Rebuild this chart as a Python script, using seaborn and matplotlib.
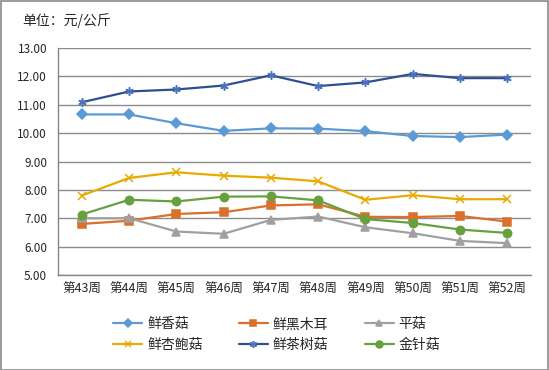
import matplotlib
matplotlib.use("Agg")
import matplotlib.pyplot as plt
import seaborn as sns
import pandas as pd
from matplotlib.lines import Line2D
from matplotlib.patches import Rectangle

weeks = ["第43周", "第44周", "第45周", "第46周", "第47周", "第48周", "第49周", "第50周", "第51周", "第52周"]
xiangu = [10.66, 10.66, 10.35, 10.08, 10.17, 10.16, 10.07, 9.90, 9.86, 9.95]
heimuer = [6.80, 6.91, 7.15, 7.21, 7.45, 7.49, 7.05, 7.04, 7.08, 6.88]
pinggu = [7.00, 7.00, 6.53, 6.45, 6.94, 7.06, 6.68, 6.47, 6.20, 6.12]
xingbaogu = [7.80, 8.42, 8.62, 8.50, 8.43, 8.30, 7.65, 7.81, 7.67, 7.67]
chashugu = [11.09, 11.47, 11.54, 11.68, 12.04, 11.66, 11.79, 12.09, 11.94, 11.94]
jinzhengu = [7.13, 7.65, 7.59, 7.76, 7.77, 7.63, 6.97, 6.83, 6.60, 6.48]

series_names = ["鲜香菇", "鲜黑木耳", "平菇", "鲜杏鲍菇", "鲜茶树菇", "金针菇"]
series_vals = [xiangu, heimuer, pinggu, xingbaogu, chashugu, jinzhengu]
line_colors = ["#5B9BD5", "#D9702C", "#A0A0A0", "#E8AA00", "#2F4F8F", "#67A03F"]
marker_colors = ["#5B9BD5", "#D9702C", "#A0A0A0", "#E8AA00", "#4A72C0", "#67A03F"]
markers = ["D", "s", "^", "x", (6, 2, 0), "o"]
msizes = [5, 6, 6, 6, 6, 6]

sns.set_theme(style="white")
plt.rcParams['font.family'] = ['Noto Sans CJK SC', 'DejaVu Sans']

rows = []
for name, vals in zip(series_names, series_vals):
    for i, v in enumerate(vals):
        rows.append({"x": i, "week": weeks[i], "price": v, "series": name})
df = pd.DataFrame(rows)

fig = plt.figure(figsize=(5.49, 3.70), dpi=100)
ax = fig.add_axes([0.106, 0.257, 0.861, 0.613])

for name, lc, mc, mk, ms in zip(series_names, line_colors, marker_colors, markers, msizes):
    sub = df[df["series"] == name]
    sns.lineplot(data=sub, x="x", y="price", ax=ax, color=lc, linewidth=1.6,
                 marker=mk, markersize=ms, markerfacecolor=mc, markeredgecolor=mc,
                 markeredgewidth=1.1, legend=False)

ax.set_xlim(-0.5, 9.5)
ax.set_ylim(5, 13)
ax.set_yticks([5, 6, 7, 8, 9, 10, 11, 12, 13])
ax.set_yticklabels([f"{v:.2f}" for v in range(5, 14)], fontsize=8.5)
ax.set_xticks(range(10))
ax.set_xticklabels(weeks, fontsize=9)
ax.set_xticks([i - 0.5 for i in range(11)], minor=True)
ax.tick_params(axis="x", which="major", length=0, pad=6)
ax.tick_params(axis="x", which="minor", length=4, color="#868686", width=1)
ax.tick_params(axis="y", length=0, pad=8)
ax.set_xlabel("")
ax.set_ylabel("")
ax.yaxis.grid(True, color="#8C8C8C", linewidth=1)
ax.set_axisbelow(True)
for s in ["top", "right"]:
    ax.spines[s].set_visible(False)
ax.spines["left"].set_color("#868686")
ax.spines["bottom"].set_color("#868686")
ax.spines["left"].set_linewidth(1)
ax.spines["bottom"].set_linewidth(1)

fig.text(22 / 549, 1 - 21 / 370, "单位：元/公斤", fontsize=10, va="center", ha="left")

handles = [Line2D([0], [0], color=lc, linewidth=1.6, marker=mk, markersize=ms - 1,
                  markerfacecolor=mc, markeredgecolor=mc, markeredgewidth=1.1)
           for lc, mc, mk, ms in zip(line_colors, marker_colors, markers, msizes)]
order = [0, 3, 1, 4, 2, 5]
fig.legend([handles[i] for i in order], [series_names[i] for i in order],
           loc="center", bbox_to_anchor=(0.504, 0.096), ncol=3,
           frameon=False, fontsize=10, handlelength=2.1, handletextpad=0.35,
           columnspacing=2.6, labelspacing=0.45)

fig.patches.append(Rectangle((0.001, 0.001), 0.997, 0.997, transform=fig.transFigure,
                             fill=False, edgecolor="#8A8A8A", linewidth=1.2))

fig.savefig("out.png", dpi=100)
